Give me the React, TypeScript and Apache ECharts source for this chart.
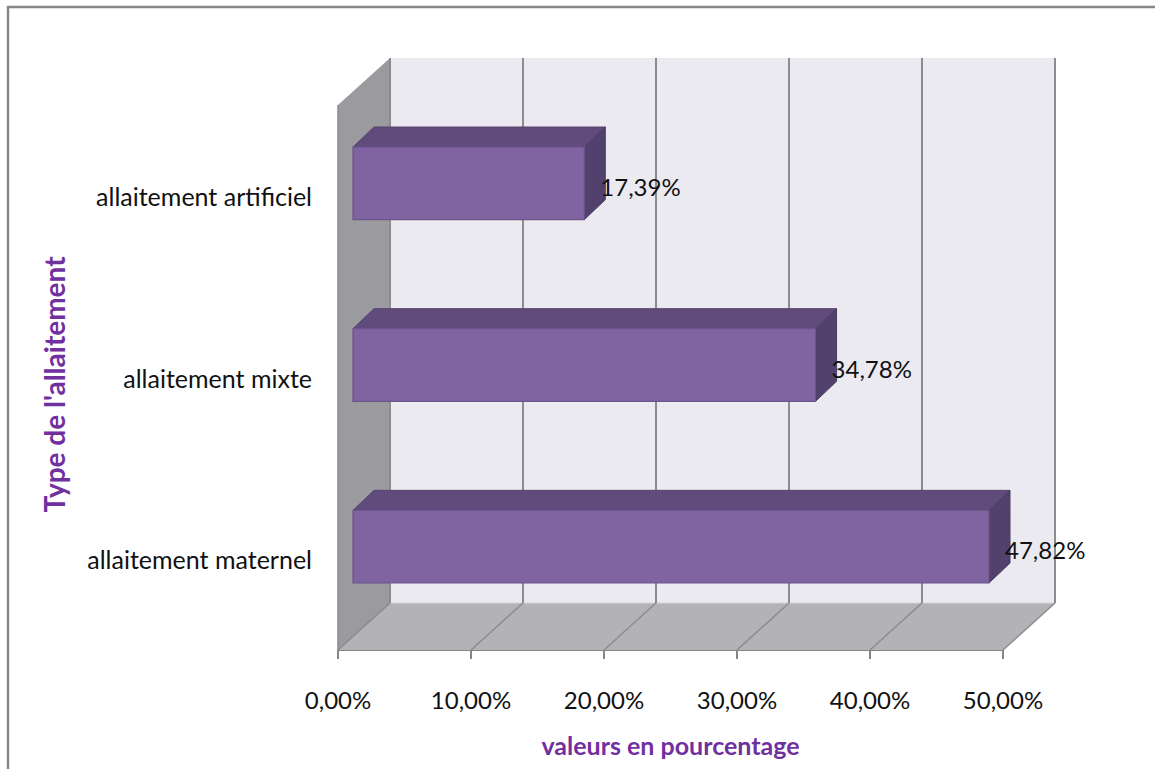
import React, { useEffect, useRef } from "react";
import * as echarts from "echarts";

const categories = ["allaitement artificiel", "allaitement mixte", "allaitement maternel"];
const values = [17.39, 34.78, 47.82];
const xTicks = [0, 10, 20, 30, 40, 50];
const xAxisTitle = "valeurs en pourcentage";
const yAxisTitle = "Type de l'allaitement";

const FONT = "Lato, 'Open Sans', sans-serif";
const fmt = (v: number) => v.toFixed(2).replace(".", ",") + "%";

// 3D projection offsets
const WALL_DX = 52;
const WALL_DY = -47;
const BAR_OFF_X = 15;
const BAR_OFF_Y = -12.5;
const BAR_DX = 21;
const BAR_DY = -20;

export default function App() {
  const ref = useRef<HTMLDivElement>(null);
  useEffect(() => {
    if (!ref.current) return;
    const chart = echarts.init(ref.current, undefined, { renderer: "svg" });
    const option: any = {
      animation: false,
      backgroundColor: "#ffffff",
      graphic: [
        {
          type: "rect",
          shape: { x: 8, y: 7, width: 1170, height: 800 },
          style: { fill: "none", stroke: "#878787", lineWidth: 2.5 },
          silent: true,
          z: 100,
        },
      ],
      grid: { left: 338, top: 105, width: 665, height: 545, containLabel: false },
      xAxis: {
        type: "value",
        min: 0,
        max: 50,
        interval: 10,
        name: xAxisTitle,
        nameLocation: "middle",
        nameGap: 82,
        nameTextStyle: { fontFamily: FONT, fontSize: 25, fontWeight: "bold", color: "#7030A0" },
        axisLine: { show: true, lineStyle: { color: "#868686", width: 2 } },
        axisTick: { show: true, length: 9, lineStyle: { color: "#868686", width: 2 } },
        splitLine: { show: false },
        axisLabel: {
          margin: 37,
          fontFamily: FONT,
          fontSize: 24,
          color: "#111111",
          formatter: (v: number) => fmt(v),
        },
      },
      yAxis: {
        type: "category",
        data: categories,
        inverse: true,
        name: yAxisTitle,
        nameLocation: "middle",
        nameRotate: 90,
        nameGap: 270,
        nameTextStyle: { fontFamily: FONT, fontSize: 28, fontWeight: "bold", color: "#7030A0", padding: [0, 14, 0, 0] },
        axisLine: { show: false },
        axisTick: { show: false },
        splitLine: { show: false },
        axisLabel: { margin: 26, fontFamily: FONT, fontSize: 25, color: "#111111" },
      },
      series: [
        {
          type: "custom",
          z: 1,
          silent: true,
          data: [[0, 0]],
          renderItem: (params: any, api: any) => {
            const cs = params.coordSys;
            const gx = cs.x, gy = cs.y, gw = cs.width, gh = cs.height;
            const children: any[] = [];
            // back wall
            children.push({
              type: "rect",
              shape: { x: gx + WALL_DX, y: gy + WALL_DY, width: gw, height: gh },
              style: { fill: "#ECEAF1", stroke: "none" },
            });
            // side wall
            children.push({
              type: "polygon",
              shape: {
                points: [
                  [gx, gy],
                  [gx + WALL_DX, gy + WALL_DY],
                  [gx + WALL_DX, gy + gh + WALL_DY],
                  [gx, gy + gh],
                ],
              },
              style: { fill: "#9B9A9E", stroke: "none" },
            });
            // floor
            children.push({
              type: "polygon",
              shape: {
                points: [
                  [gx, gy + gh],
                  [gx + gw, gy + gh],
                  [gx + gw + WALL_DX, gy + gh + WALL_DY],
                  [gx + WALL_DX, gy + gh + WALL_DY],
                ],
              },
              style: { fill: "#B3B2B6", stroke: "none" },
            });
            // floor back edge
            children.push({
              type: "line",
              shape: { x1: gx + WALL_DX, y1: gy + gh + WALL_DY, x2: gx + gw + WALL_DX, y2: gy + gh + WALL_DY },
              style: { stroke: "#D6D5DA", lineWidth: 1 },
            });
            // side wall left edge
            children.push({
              type: "line",
              shape: { x1: gx, y1: gy, x2: gx, y2: gy + gh },
              style: { stroke: "#8A898D", lineWidth: 1.5 },
            });
            xTicks.forEach((t) => {
              const x = api.coord([t, 0])[0];
              // back wall gridline
              children.push({
                type: "line",
                shape: { x1: x + WALL_DX, y1: gy + WALL_DY, x2: x + WALL_DX, y2: gy + gh + WALL_DY },
                style: { stroke: "#8C8C8C", lineWidth: 2 },
              });
              // floor diagonal
              children.push({
                type: "line",
                shape: { x1: x + WALL_DX, y1: gy + gh + WALL_DY, x2: x, y2: gy + gh },
                style: { stroke: "#8C8C8C", lineWidth: 1.5 },
              });
            });
            return { type: "group", children };
          },
        },
        {
          type: "custom",
          z: 2,
          silent: true,
          data: values.map((v, i) => [v, i]),
          renderItem: (params: any, api: any) => {
            const v = api.value(0);
            const idx = api.value(1);
            const p0 = api.coord([0, idx]);
            const p1 = api.coord([v, idx]);
            const band = api.size([0, 1])[1];
            const h = band * 0.4;
            const x0 = p0[0] + BAR_OFF_X;
            const x1 = p1[0] + BAR_OFF_X;
            const yc = p0[1] + BAR_OFF_Y;
            const top = yc - h / 2;
            const bottom = yc + h / 2;
            return {
              type: "group",
              children: [
                {
                  type: "polygon",
                  shape: { points: [[x0, top], [x0 + BAR_DX, top + BAR_DY], [x1 + BAR_DX, top + BAR_DY], [x1, top]] },
                  style: { fill: "#604B7C", stroke: "#56446F", lineWidth: 1 },
                },
                {
                  type: "polygon",
                  shape: { points: [[x1, top], [x1 + BAR_DX, top + BAR_DY], [x1 + BAR_DX, bottom + BAR_DY], [x1, bottom]] },
                  style: { fill: "#51416C", stroke: "#4A3C63", lineWidth: 1 },
                },
                {
                  type: "rect",
                  shape: { x: x0, y: top, width: x1 - x0, height: h },
                  style: { fill: "#8064A2", stroke: "#6B5489", lineWidth: 1.2 },
                },
                {
                  type: "text",
                  x: x1 + 16,
                  y: yc + 3,
                  style: {
                    text: fmt(v),
                    fontFamily: FONT,
                    fontSize: 24,
                    fill: "#111111",
                    align: "left",
                    verticalAlign: "middle",
                  },
                },
              ],
            };
          },
        },
      ],
    };
    chart.setOption(option);
    return () => chart.dispose();
  }, []);
  return (
    <div
      ref={ref}
      style={{ position: "fixed", left: 0, top: 0, width: 1155, height: 769, background: "#fff" }}
    />
  );
}
